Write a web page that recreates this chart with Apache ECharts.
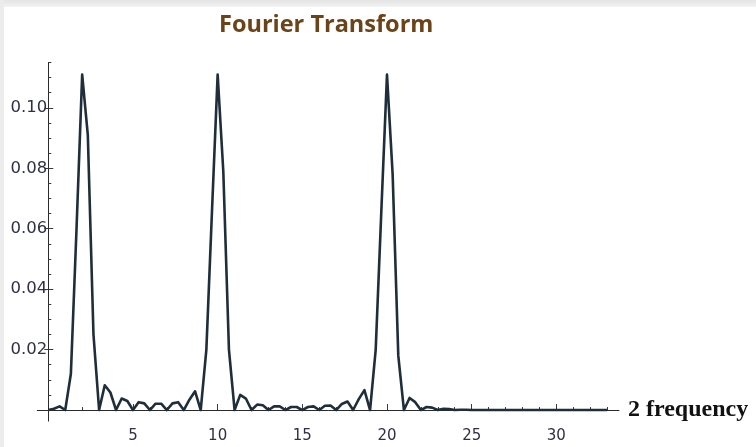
<!DOCTYPE html>
<html>
<head>
<meta charset="utf-8">
<script src="https://cdn.jsdelivr.net/npm/echarts@6/dist/echarts.min.js"></script>
<style>
  html, body { margin: 0; padding: 0; width: 756px; height: 447px; overflow: hidden; background: #ffffff; }
  #frameTop { position: absolute; left: 0; top: 0; width: 756px; height: 7px; background: linear-gradient(#e4e4e4, #f3f3f3); }
  #frameLeft { position: absolute; left: 0; top: 0; width: 4px; height: 447px; background: #ececec; }
  #chart { position: absolute; left: 0; top: 0; width: 756px; height: 447px; }
</style>
</head>
<body>
<div id="frameTop"></div>
<div id="frameLeft"></div>
<div id="chart"></div>
<script>
// Spectrum bins are spaced a third of a unit apart, starting at 0.
const freqStep = 1 / 3;

// |F| per bin, three bins per unit (k, k+1/3, k+2/3), last bin at 33.
const amplitude = [
  0, 0.0004, 0.0012,      // 0
  0, 0.012, 0.060,        // 1
  0.111, 0.091, 0.025,    // 2
  0, 0.0082, 0.0058,      // 3
  0, 0.0038, 0.0030,      // 4
  0, 0.0026, 0.0022,      // 5
  0, 0.0021, 0.0021,      // 6
  0, 0.0022, 0.0026,      // 7
  0, 0.0034, 0.0062,      // 8
  0, 0.020, 0.066,        // 9
  0.111, 0.079, 0.020,    // 10
  0, 0.0050, 0.0038,      // 11
  0, 0.0018, 0.0016,      // 12
  0, 0.0012, 0.0012,      // 13
  0, 0.0010, 0.0010,      // 14
  0, 0.0010, 0.0012,      // 15
  0, 0.0014, 0.0015,      // 16
  0, 0.0020, 0.0028,      // 17
  0, 0.0036, 0.0066,      // 18
  0, 0.020, 0.066,        // 19
  0.111, 0.078, 0.018,    // 20
  0, 0.0040, 0.0026,      // 21
  0, 0.0010, 0.0008,      // 22
  0, 0.0004, 0.0003,      // 23
  0, 0.0001, 0.0001,      // 24
  0, 0, 0,                // 25
  0, 0, 0,                // 26
  0, 0, 0,                // 27
  0, 0, 0,                // 28
  0, 0, 0,                // 29
  0, 0, 0,                // 30
  0, 0, 0,                // 31
  0, 0, 0,                // 32
  0                       // 33
];

// Tick positions
const xMajorTicks = [5, 10, 15, 20, 25, 30];
const xMinorTicks = [1, 2, 3, 4, 6, 7, 8, 9, 11, 12, 13, 14, 16, 17, 18, 19,
                     21, 22, 23, 24, 26, 27, 28, 29, 31, 32, 33];
const yMajorTicks = [0.02, 0.04, 0.06, 0.08, 0.10];
const yMinorTicks = [0.005, 0.01, 0.015, 0.025, 0.03, 0.035, 0.045, 0.05, 0.055,
                     0.065, 0.07, 0.075, 0.085, 0.09, 0.095, 0.105, 0.11, 0.115];

// Plot range (axes cross at the origin and run a little past it)
const xRange = [-0.65, 33.7];
const yRange = [-0.0036, 0.115];

const titleText = 'Fourier Transform';
const xAxisTitle = '2 frequency';

const points = amplitude.map((a, i) => [i * freqStep, a]);

const axisColor = '#2a2a2a';
const tickColor = '#3a3a3a';
const xLabelStyle = { fontFamily: 'DejaVu Sans', fontSize: 15, color: '#2f3046' };
const yLabelStyle = { fontFamily: 'DejaVu Sans', fontSize: 16.5, color: '#2f3046' };

function xAxisBase(idx) {
  return {
    type: 'value', min: xRange[0], max: xRange[1], position: 'bottom',
    splitLine: { show: false },
    axisLine: { show: true, onZero: true, onZeroAxisIndex: idx, lineStyle: { color: axisColor, width: 1, opacity: idx === 0 ? 1 : 0 } }
  };
}
function yAxisBase(idx) {
  return {
    type: 'value', min: yRange[0], max: yRange[1], position: 'left',
    splitLine: { show: false },
    axisLine: { show: true, onZero: true, onZeroAxisIndex: idx, lineStyle: { color: axisColor, width: 1, opacity: idx === 0 ? 1 : 0 } }
  };
}

const chart = echarts.init(document.getElementById('chart'), null, { renderer: 'canvas' });
chart.setOption({
  animation: false,
  backgroundColor: 'transparent',
  title: {
    text: titleText,
    left: 214, top: 8,
    textStyle: { fontFamily: 'Open Sans', fontWeight: 'bold', fontSize: 23.5, color: '#6b4318' }
  },
  grid: { left: 37.3, right: 137, top: 62.5, bottom: 26.1, outerBoundsMode: 'none', containLabel: false },
  xAxis: [
    Object.assign(xAxisBase(0), {
      name: xAxisTitle, nameLocation: 'end', nameGap: 9,
      nameTextStyle: { fontFamily: 'Liberation Serif', fontWeight: 'bold', fontSize: 24, color: '#111111', verticalAlign: 'middle', align: 'left' },
      axisTick: { show: true, inside: true, length: 6, customValues: xMajorTicks, lineStyle: { color: tickColor } },
      axisLabel: Object.assign({ show: true, margin: 8, customValues: xMajorTicks, formatter: v => String(v) }, xLabelStyle)
    }),
    Object.assign(xAxisBase(1), {
      axisTick: { show: true, inside: true, length: 3, customValues: xMinorTicks, lineStyle: { color: tickColor } },
      axisLabel: { show: false }
    })
  ],
  yAxis: [
    Object.assign(yAxisBase(0), {
      axisTick: { show: true, inside: false, length: 4, customValues: yMajorTicks, lineStyle: { color: tickColor } },
      axisLabel: Object.assign({ show: true, margin: -10, customValues: yMajorTicks, formatter: v => v.toFixed(2) }, yLabelStyle)
    }),
    Object.assign(yAxisBase(1), {
      axisTick: { show: true, inside: true, length: 5, customValues: yMajorTicks, lineStyle: { color: tickColor } },
      axisLabel: { show: false }
    }),
    Object.assign(yAxisBase(0), {
      axisTick: { show: true, inside: true, length: 3, customValues: yMinorTicks, lineStyle: { color: tickColor } },
      axisLabel: { show: false }
    })
  ],
  series: [{
    type: 'line',
    xAxisIndex: 0, yAxisIndex: 0,
    data: points,
    showSymbol: false,
    clip: false,
    lineStyle: { color: '#1f2e3a', width: 2.6, join: 'round' }
  }]
});
</script>
</body>
</html>
